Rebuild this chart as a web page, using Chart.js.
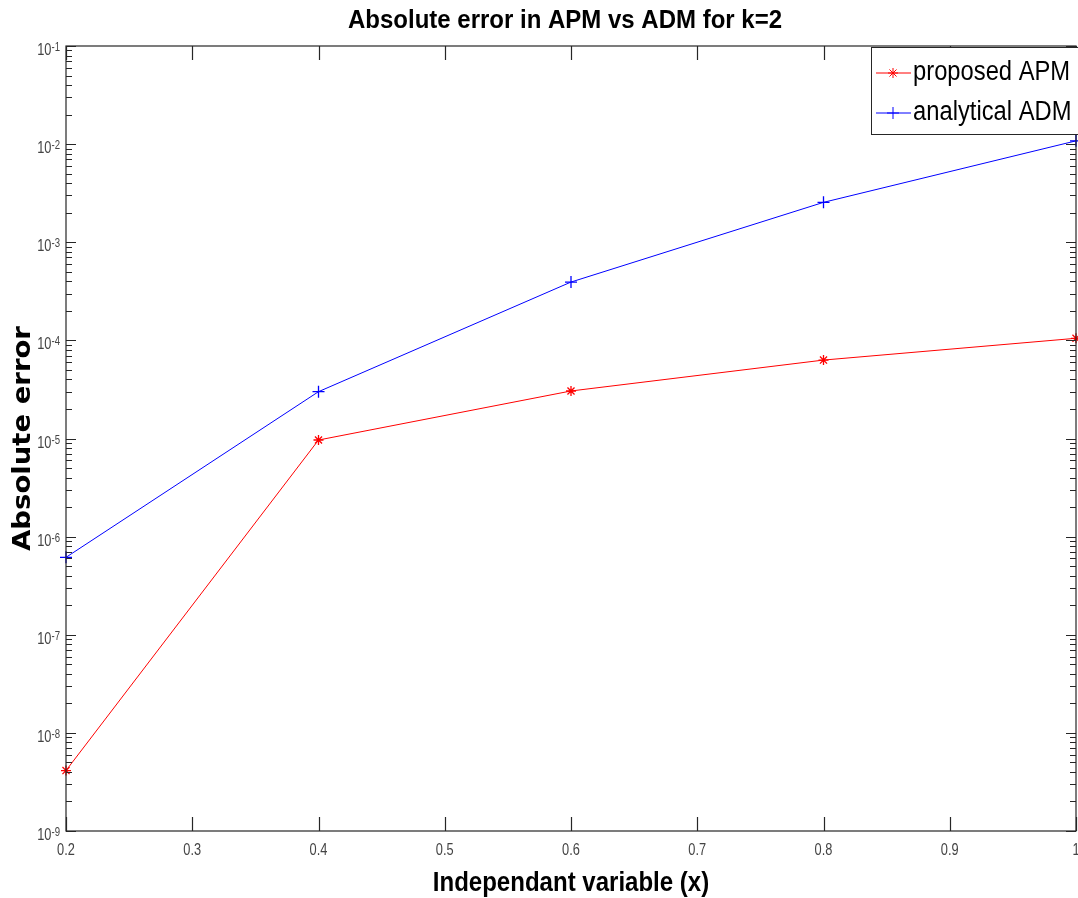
<!DOCTYPE html>
<html lang="en">
<head>
<meta charset="UTF-8">
<title>Absolute error in APM vs ADM for k=2</title>
<script src="https://cdn.jsdelivr.net/npm/chart.js"></script>
<style>
  html, body { margin: 0; padding: 0; background: #fff; }
  canvas { display: block; }
</style>
</head>
<body>
<canvas id="chart" width="1078" height="898"></canvas>

<script>
// values
var xValues = [0.2, 0.4, 0.6, 0.8, 1.0];
var apmError = [4.13e-9, 9.65e-6, 3.05e-5, 6.3e-5, 1.05e-4];
var admError = [6.15e-7, 3.0e-5, 3.93e-4, 2.55e-3, 1.08e-2];
var xTicks = [0.2, 0.3, 0.4, 0.5, 0.6, 0.7, 0.8, 0.9, 1];
var yExponents = [-9, -8, -7, -6, -5, -4, -3, -2, -1];

var SANS = '"Liberation Sans", Arial, sans-serif';
var AXIS_COLOR = '#262626';

function toPoints(ys) {
  return xValues.map(function(x, i) { return { x: x, y: ys[i] }; });
}

// no narrow font available, so squeeze the text horizontally
function fillScaled(ctx, text, x, y, sx, align) {
  ctx.save();
  ctx.translate(x, y);
  ctx.scale(sx, 1);
  ctx.textAlign = align;
  ctx.fillText(text, 0, 0);
  ctx.restore();
}

// MATLAB style box, inward ticks, superscript labels, legend, titles
var matlabAxes = {
  id: 'matlabAxes',
  afterDraw: function(chart) {
    var ctx = chart.ctx;
    var area = chart.chartArea;
    var xs = chart.scales.x;
    var ys = chart.scales.y;

    ctx.save();
    ctx.strokeStyle = AXIS_COLOR;
    ctx.lineWidth = 1.2;
    ctx.strokeRect(area.left, area.top, area.right - area.left, area.bottom - area.top);

    // x ticks, bottom and top
    ctx.beginPath();
    xTicks.forEach(function(v) {
      var px = Math.round(xs.getPixelForValue(v)) + 0.5;
      ctx.moveTo(px, area.bottom); ctx.lineTo(px, area.bottom - 14);
      ctx.moveTo(px, area.top); ctx.lineTo(px, area.top + 14);
    });
    // y ticks, left and right
    yExponents.forEach(function(e) {
      for (var k = 1; k <= 9; k++) {
        if (k > 1 && e === -1) break;
        var len = k === 1 ? 10 : 6;
        var py = Math.round(ys.getPixelForValue(k * Math.pow(10, e))) + 0.5;
        ctx.moveTo(area.left, py); ctx.lineTo(area.left + len, py);
        ctx.moveTo(area.right, py); ctx.lineTo(area.right - len, py);
      }
    });
    ctx.stroke();

    // x tick labels
    ctx.fillStyle = '#444';
    ctx.font = '16px ' + SANS;
    ctx.textBaseline = 'top';
    xTicks.forEach(function(v) {
      fillScaled(ctx, String(v), xs.getPixelForValue(v), area.bottom + 12, 0.8, 'center');
    });

    // y tick labels 10^e
    ctx.textBaseline = 'alphabetic';
    yExponents.forEach(function(e) {
      var py = ys.getPixelForValue(Math.pow(10, e));
      ctx.font = '12px ' + SANS;
      var supW = ctx.measureText(String(e)).width * 0.8;
      var right = area.left - 6;
      fillScaled(ctx, String(e), right, py + 5, 0.8, 'right');
      ctx.font = '16px ' + SANS;
      fillScaled(ctx, '10', right - supW, py + 9, 0.8, 'right');
    });

    // titles
    ctx.fillStyle = '#000';
    ctx.textBaseline = 'middle';
    var cx = (area.left + area.right) / 2;
    ctx.font = 'bold 25px ' + SANS;
    fillScaled(ctx, 'Absolute error in APM vs ADM for k=2', cx - 6, 21, 0.96, 'center');
    ctx.font = 'bold 27px ' + SANS;
    fillScaled(ctx, 'Independant variable (x)', cx, 884, 0.89, 'center');
    ctx.save();
    ctx.translate(23, (area.top + area.bottom) / 2);
    ctx.rotate(-Math.PI / 2);
    ctx.font = 'bold 25px "DejaVu Sans", Verdana, sans-serif';
    fillScaled(ctx, 'Absolute error', 0, 0, 1.1, 'center');
    ctx.restore();

    // legend
    var lx = 871, ly = area.top + 1, lw = 210, lh = 87;
    ctx.fillStyle = '#fff';
    ctx.fillRect(lx, ly, lw, lh);
    ctx.strokeStyle = '#262626';
    ctx.lineWidth = 1;
    ctx.strokeRect(lx + 0.5, ly + 0.5, lw, lh);
    chart.data.datasets.forEach(function(ds, i) {
      var cy = ly + 26 + i * 40;
      ctx.strokeStyle = ds.borderColor;
      ctx.lineWidth = 1;
      ctx.beginPath();
      ctx.moveTo(876, cy); ctx.lineTo(911, cy);
      ctx.stroke();
      ctx.fillStyle = ds.borderColor;
      Chart.helpers.drawPoint(ctx, {
        pointStyle: ds.pointStyle, radius: ds.pointRadius, borderWidth: 1.3
      }, 893, cy);
      ctx.fillStyle = '#000';
      ctx.font = '27px ' + SANS;
      ctx.textBaseline = 'middle';
      fillScaled(ctx, ds.label, 913, cy, 0.88, 'left');
    });
    ctx.restore();
  }
};

new Chart(document.getElementById('chart'), {
  type: 'line',
  data: {
    datasets: [{
      label: 'proposed APM',
      data: toPoints(apmError),
      borderColor: '#ff0000',
      backgroundColor: '#ff0000',
      borderWidth: 1,
      pointStyle: 'star',
      pointRadius: 5,
      pointBorderWidth: 1.3,
      clip: false
    }, {
      label: 'analytical ADM',
      data: toPoints(admError),
      borderColor: '#0000ff',
      backgroundColor: '#0000ff',
      borderWidth: 1,
      pointStyle: 'cross',
      pointRadius: 6,
      pointBorderWidth: 1.3,
      clip: false
    }]
  },
  plugins: [matlabAxes],
  options: {
    responsive: false,
    animation: false,
    layout: { autoPadding: false, padding: { left: 66, top: 46, right: 2, bottom: 67 } },
    plugins: { legend: { display: false }, title: { display: false }, tooltip: { enabled: false } },
    scales: {
      x: {
        type: 'linear', min: 0.2, max: 1,
        grid: { display: false, drawTicks: false },
        border: { display: false },
        ticks: { display: false }
      },
      y: {
        type: 'logarithmic', min: 1e-9, max: 1e-1,
        grid: { display: false, drawTicks: false },
        border: { display: false },
        ticks: { display: false }
      }
    }
  }
});
</script>
</body>
</html>
